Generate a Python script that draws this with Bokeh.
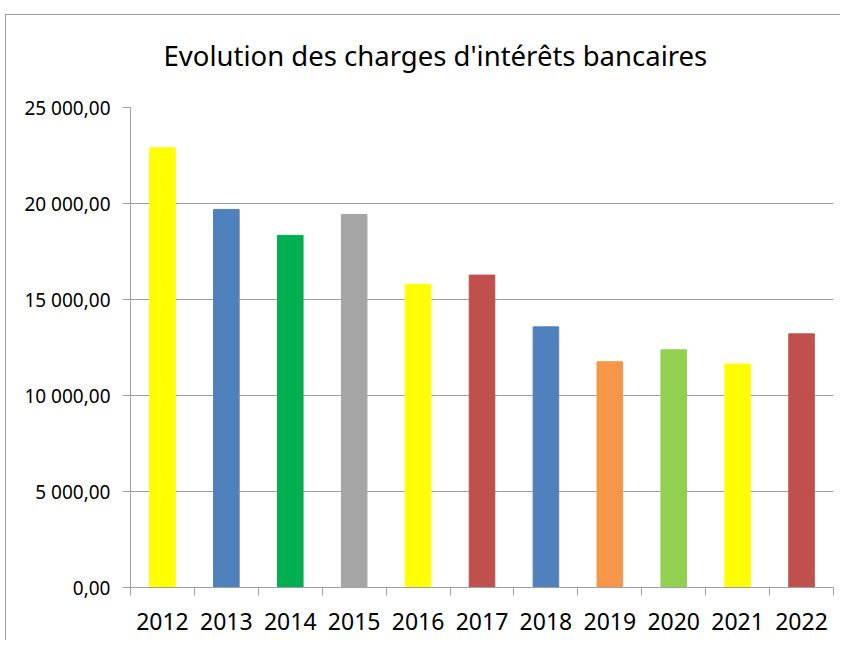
from bokeh.plotting import figure
from bokeh.models import FixedTicker, ColumnDataSource
from bokeh.embed import file_html
from bokeh.resources import INLINE

years = [2012, 2013, 2014, 2015, 2016, 2017, 2018, 2019, 2020, 2021, 2022]
values = [22900, 19690, 18340, 19430, 15790, 16270, 13575, 11760, 12380, 11640, 13210]
colors = ["#FFFF00", "#4F81BD", "#00B050", "#A5A5A5", "#FFFF00", "#C0504D",
          "#4F81BD", "#F79646", "#92D050", "#FFFF00", "#C0504D"]
y_ticks = [0, 5000, 10000, 15000, 20000, 25000]
y_labels = ["0,00", "5 000,00", "10 000,00", "15 000,00", "20 000,00", "25 000,00"]
title_text = "Evolution des charges d'intérêts bancaires"

src = ColumnDataSource(dict(x=years, top=values, color=colors))

p = figure(width=835, height=640, output_backend="svg", toolbar_location=None,
           x_range=(years[0] - 0.5, years[-1] + 0.5), y_range=(0, 25000),
           min_border_left=125, min_border_right=7, min_border_top=107, min_border_bottom=53)
p.styles = {
    "margin-top": "0px", "margin-left": "5px",
    "background-color": "white",
    "background-image": "linear-gradient(#a0a0a0, #a0a0a0), linear-gradient(#a0a0a0, #a0a0a0)",
    "background-size": "100% 1px, 1px 100%",
    "background-position": "0 14px, 0 14px",
    "background-repeat": "no-repeat",
}
p.border_fill_color = None
p.background_fill_color = "white"
p.outline_line_color = None
p.vbar(x="x", top="top", width=0.4, color="color", source=src)

p.title.text = title_text
p.title.align = "left"
p.title.offset = 33
p.title.text_font = "Noto Sans"
p.title.text_font_size = "27.5px"
p.title.text_font_style = "normal"
p.title.text_color = "#000000"
p.title.standoff = 68

# x axis
p.xaxis.ticker = FixedTicker(ticks=years, minor_ticks=[y - 0.5 for y in years] + [years[-1] + 0.5])
p.xaxis.major_label_overrides = {y: str(y) for y in years}
p.xaxis.major_tick_out = 0
p.xaxis.major_tick_in = 0
p.xaxis.minor_tick_out = 8
p.xaxis.minor_tick_in = 0
p.xaxis.minor_tick_line_color = "#a0a0a0"
p.xaxis.axis_line_color = "#a0a0a0"
p.xaxis.major_label_text_font = "Noto Sans"
p.xaxis.major_label_text_font_size = "23px"
p.xaxis.major_label_text_color = "#000000"
p.xaxis.major_label_standoff = 17
p.xgrid.grid_line_color = None

# y axis
p.yaxis.ticker = FixedTicker(ticks=y_ticks, minor_ticks=[])
p.yaxis.major_label_overrides = {t: l for t, l in zip(y_ticks, y_labels)}
p.yaxis.major_tick_out = 8
p.yaxis.major_tick_in = 0
p.yaxis.major_tick_line_color = "#a0a0a0"
p.yaxis.axis_line_color = "#a0a0a0"
p.yaxis.major_label_text_font = "Noto Sans"
p.yaxis.major_label_text_font_size = "19px"
p.yaxis.major_label_text_color = "#000000"
p.yaxis.major_label_standoff = 12
p.ygrid.grid_line_color = "#a0a0a0"
p.ygrid.grid_line_width = 1

open("out.html", "w").write(file_html(p, INLINE))
